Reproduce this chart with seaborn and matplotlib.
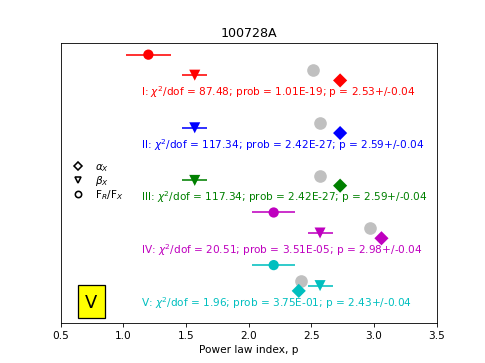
import numpy as np
import pandas as pd
import matplotlib
matplotlib.use("Agg")
import matplotlib.pyplot as plt
from matplotlib.lines import Line2D
import seaborn as sns

# ---- data ----
groups = ["I", "II", "III", "IV", "V"]
colors = ["red", "blue", "green", "m", "c"]
group_y = [5, 4, 3, 2, 1]
alpha_x = [2.73, 2.73, 2.73, 3.06, 2.40]
beta_x = [1.57, 1.57, 1.57, 2.57, 2.57]
beta_err = [0.10, 0.10, 0.10, 0.10, 0.10]
fr_fx = [1.20, np.nan, np.nan, 2.20, 2.20]
fr_fx_err = [0.18, np.nan, np.nan, 0.17, 0.17]
p_grey = [2.51, 2.57, 2.57, 2.97, 2.42]
chi2 = [87.48, 117.34, 117.34, 20.51, 1.96]
prob = ["1.01E-19", "2.42E-27", "2.42E-27", "3.51E-05", "3.75E-01"]
p_val = [2.53, 2.59, 2.59, 2.98, 2.43]
p_err = [0.04, 0.04, 0.04, 0.04, 0.04]
title = "100728A"
panel_label = "V"

# vertical offsets inside each group (layout)
off_fr, off_grey, off_beta, off_alpha = 0.70, 0.40, 0.31, 0.21

df = pd.DataFrame({
    "group": groups, "color": colors, "y": group_y,
    "alpha": alpha_x, "beta": beta_x, "beta_err": beta_err,
    "fr": fr_fx, "fr_err": fr_fx_err, "grey": p_grey,
})
df["y_fr"] = df["y"] + off_fr
df["y_grey"] = df["y"] + off_grey
df["y_beta"] = df["y"] + off_beta
df["y_alpha"] = df["y"] + off_alpha

fig, ax = plt.subplots(figsize=(6.4, 4.8), dpi=75.8)
pal = dict(zip(groups, colors))

# error bars
for _, r in df.iterrows():
    if not np.isnan(r["fr"]):
        ax.hlines(r["y_fr"], r["fr"] - r["fr_err"], r["fr"] + r["fr_err"],
                  color=r["color"], lw=1.5, zorder=2)
    ax.hlines(r["y_beta"], r["beta"] - r["beta_err"], r["beta"] + r["beta_err"],
              color=r["color"], lw=1.5, zorder=2)

ms = 10
sns.scatterplot(data=df.dropna(subset=["fr"]), x="fr", y="y_fr", hue="group",
                palette=pal, marker="o", s=ms**2 * 0.95, linewidth=0,
                legend=False, ax=ax, zorder=3)
sns.scatterplot(data=df, x="grey", y="y_grey", color="silver", marker="o",
                s=12**2, linewidth=0, legend=False, ax=ax, zorder=3)
sns.scatterplot(data=df, x="beta", y="y_beta", hue="group", palette=pal,
                marker="v", s=ms**2 * 1.1, linewidth=0, legend=False, ax=ax, zorder=3)
sns.scatterplot(data=df, x="alpha", y="y_alpha", hue="group", palette=pal,
                marker="D", s=9.5**2, linewidth=0, legend=False, ax=ax, zorder=3)

for g, c, y, ch, pr, pv, pe in zip(groups, colors, group_y, chi2, prob, p_val, p_err):
    ax.text(1.14, y, f"{g}: $\\chi^2$/dof = {ch:.2f}; prob = {pr}; p = {pv:.2f}+/-{pe:.2f}",
            color=c, fontsize=10, va="center", ha="left")

handles = [
    Line2D([], [], marker="D", ls="none", mfc="none", mec="k", mew=1.5, ms=5.5),
    Line2D([], [], marker="v", ls="none", mfc="none", mec="k", mew=1.5, ms=6),
    Line2D([], [], marker="o", ls="none", mfc="none", mec="k", mew=1.5, ms=6),
]
ax.legend(handles, [r"$\alpha_X$", r"$\beta_X$", r"F$_R$/F$_X$"], loc="center left",
          bbox_to_anchor=(0.0, 0.505), frameon=False, fontsize=10,
          handlelength=1.5, handletextpad=0.9, labelspacing=0.0)

ax.text(0.745, 1.0, panel_label, fontsize=17, ha="center", va="center",
        bbox=dict(boxstyle="square,pad=0.42", fc="yellow", ec="k", lw=1.2))

ax.set_xlim(0.5, 3.5)
ax.set_ylim(0.6, 5.925)
ax.set_yticks([])
ax.set_ylabel("")
ax.set_xlabel("Power law index, p")
ax.set_title(title)
fig.savefig("out.png", dpi=75.8)
